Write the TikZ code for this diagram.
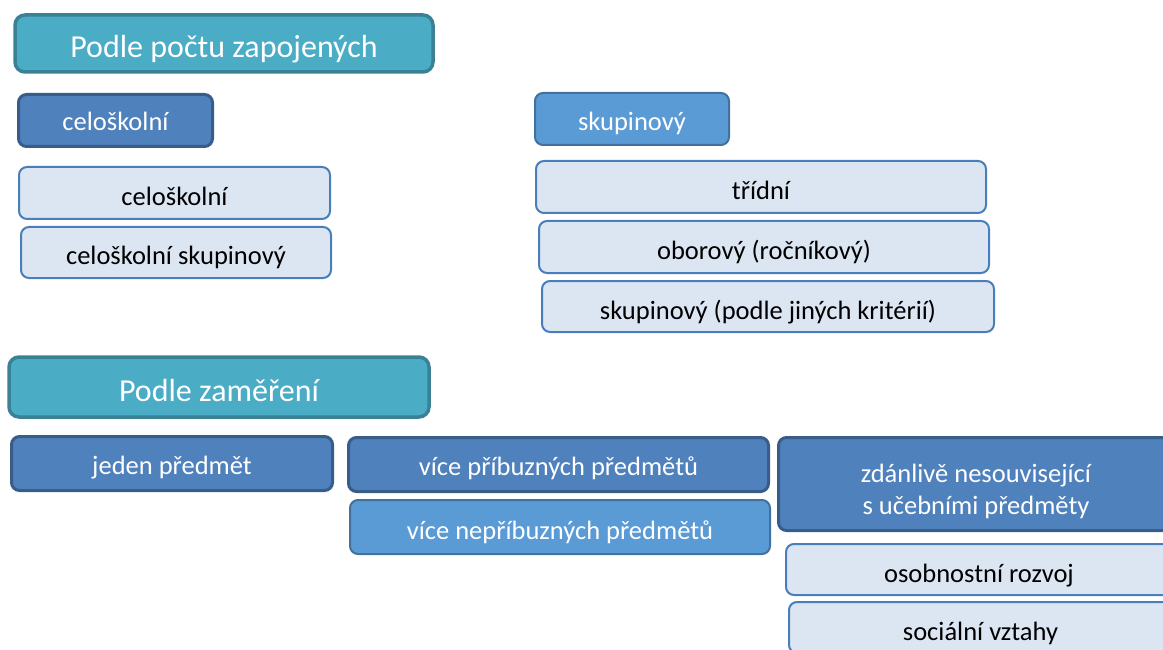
\documentclass[tikz,border=0pt]{standalone}
\usepackage{fontspec}
\setmainfont{Carlito}
\definecolor{hdfill}{HTML}{4BACC6}
\definecolor{hddraw}{HTML}{3A8196}
\definecolor{dkfill}{HTML}{4F81BD}
\definecolor{dkdraw}{HTML}{385D8A}
\definecolor{mdfill}{HTML}{5B9BD5}
\definecolor{mddraw}{HTML}{41719C}
\definecolor{ltfill}{HTML}{DCE6F2}
\definecolor{ltdraw}{HTML}{4A7EBB}
\tikzset{
 kat box/.style={rectangle,rounded corners=8pt,inner sep=0pt,outer sep=0pt,
                 align=center,text depth=0pt,font=\fontsize{26.5}{32}\selectfont},
 kat head/.style={kat box,fill=hdfill,draw=hddraw,line width=3.5pt,rounded corners=10pt,
                  text=white,font=\fontsize{32}{38}\selectfont,text height=29pt},
 kat dark/.style={kat box,fill=dkfill,draw=dkdraw,line width=3pt,text=white,text height=21pt},
 kat mid/.style={kat box,fill=mdfill,draw=mddraw,line width=2pt,text=white,text height=24pt},
 kat light/.style={kat box,fill=ltfill,draw=ltdraw,line width=2pt,text=black,text height=25pt}
}
\begin{document}
\begin{tikzpicture}[x=1pt,y=-1pt]
 \useasboundingbox (0,0) rectangle (1163,650);
 \clip (0,0) rectangle (1163,650);
 % podle poctu zapojenych
 \node[kat head,minimum width=418pt,minimum height=57pt] (pocet) at (224,43.5) {Podle počtu zapojených};
 \node[kat dark,minimum width=194pt,minimum height=52pt] (celDark) at (115.5,120.5) {celoškolní};
 \node[kat light,minimum width=311pt,minimum height=52pt] (celA) at (174.5,193) {celoškolní};
 \node[kat light,minimum width=310pt,minimum height=51pt] (celB) at (176,252.5) {celoškolní skupinový};
 \node[kat mid,minimum width=194pt,minimum height=52pt] (skDark) at (632,119) {skupinový};
 \node[kat light,minimum width=450pt,minimum height=52pt] (trid) at (761,187) {třídní};
 \node[kat light,minimum width=450pt,minimum height=52pt] (obor) at (764,247) {oborový (ročníkový)};
 \node[kat light,minimum width=452pt,minimum height=51pt] (skup) at (768,306.5) {skupinový (podle jiných kritérií)};
 % podle zamereni
 \node[kat head,minimum width=420pt,minimum height=60pt] (zamer) at (219,387) {Podle zaměření};
 \node[kat dark,minimum width=321pt,minimum height=54pt] (jeden) at (172,463.5) {jeden předmět};
 \node[kat dark,minimum width=420pt,minimum height=54pt] (pribuz) at (558.5,464.5) {více příbuzných předmětů};
 \node[kat mid,minimum width=420pt,minimum height=54pt] (nepribuz) at (560,527) {více nepříbuzných předmětů};
 \node[kat dark,minimum width=395pt,minimum height=93pt,text height=60pt] (nesouv) at (976,484)
   {zdánlivě nesouvisející\\s učebními předměty};
 \node[kat light,minimum width=386pt,minimum height=51pt] (rozvoj) at (979,569.5) {osobnostní rozvoj};
 \node[kat light,minimum width=383pt,minimum height=51pt] (vztahy) at (980.5,627.5) {sociální vztahy};
\end{tikzpicture}
\end{document}
